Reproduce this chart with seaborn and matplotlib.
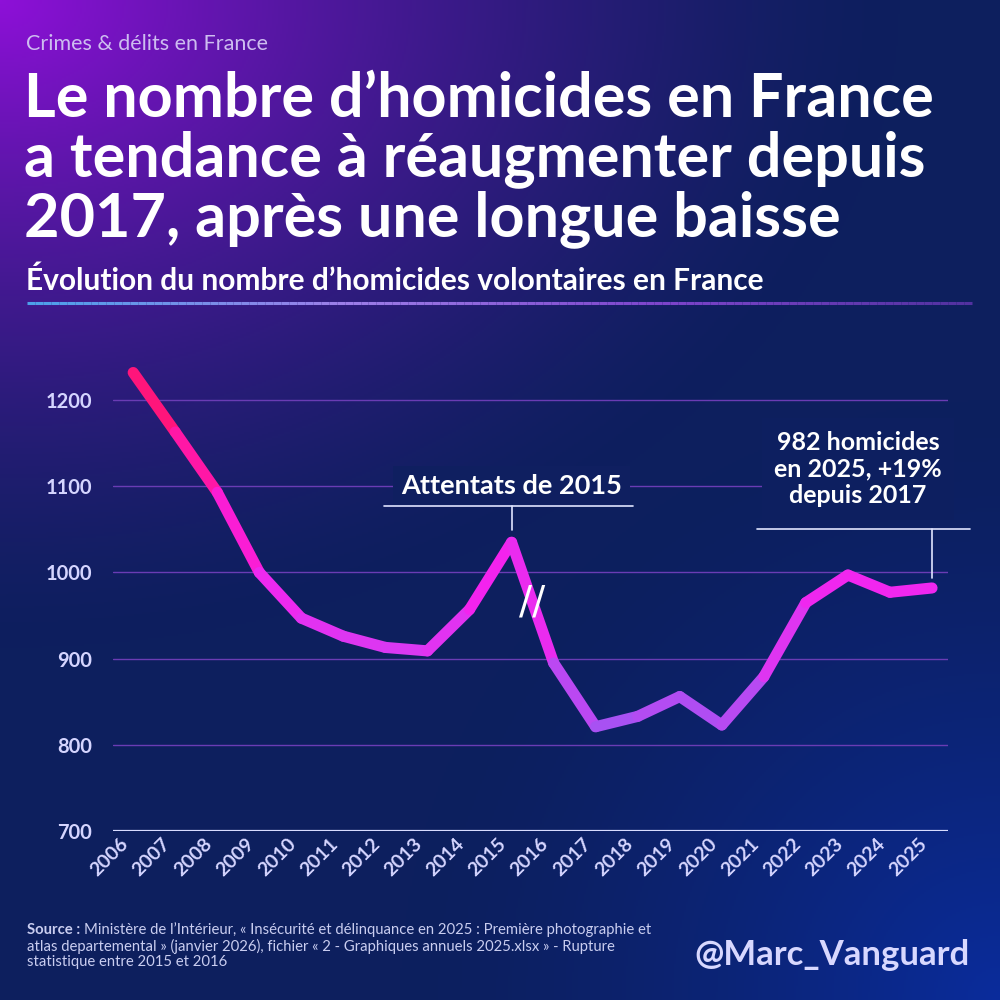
import numpy as np
import pandas as pd
import matplotlib.pyplot as plt
import seaborn as sns
from matplotlib.colors import LinearSegmentedColormap, Normalize, to_rgb
from matplotlib.collections import LineCollection
from matplotlib.transforms import ScaledTranslation

# data
years = list(range(2006, 2026))
homicides = [1232, 1163, 1093, 1000, 947, 926, 913, 909, 957, 1035,
             895, 821, 833, 856, 823, 879, 965, 997, 977, 982]
y_ticks = [700, 800, 900, 1000, 1100, 1200]
x_labels = [str(y) for y in years]

sns.set_theme(style='white')
plt.rcParams['font.family'] = ['Lato', 'DejaVu Sans']

fig = plt.figure(figsize=(10, 10), dpi=100)

# background gradient (purple top-left -> navy -> blue bottom-right)
navy = np.array(to_rgb('#0d1f5e'))
purple = np.array(to_rgb('#8e10d8'))
blue = np.array(to_rgb('#0a2c9c'))


def bg_at(x, y):
    # x, y in figure fraction measured from the top-left corner
    d1 = np.sqrt((x / 1.0) ** 2 + (y / 0.72) ** 2)
    w1 = np.clip(1 - d1 / 0.9, 0, 1) ** 1.5
    d2 = np.sqrt((1 - x) ** 2 + (1 - y) ** 2)
    w2 = np.clip(1 - d2 / 0.6, 0, 1) ** 1.5
    c = navy * (1 - w1[..., None]) + purple * w1[..., None]
    return c * (1 - w2[..., None]) + blue * w2[..., None]


yy, xx = np.mgrid[0:1:500j, 0:1:500j]
bg = fig.add_axes([0, 0, 1, 1], zorder=-10)
bg.imshow(bg_at(xx, yy), extent=[0, 1, 0, 1], origin='upper', aspect='auto')
bg.set_xlim(0, 1)
bg.set_ylim(0, 1)
bg.axis('off')


def bg_hex(px, py):
    c = bg_at(np.array([px / 1000]), np.array([py / 1000]))[0]
    return tuple(c)


# texts at the top
fig.text(0.026, 1 - 0.044, 'Crimes & délits en France', fontsize=15.5,
         color='#cdbdf0', va='center')
title_lines = ['Le nombre d’homicides en France',
               'a tendance à réaugmenter depuis',
               '2017, après une longue baisse']
for i, line in enumerate(title_lines):
    fig.text(0.024, 1 - (0.117 + 0.0595 * i), line, fontsize=44,
             weight='bold', color='white', va='baseline')
fig.text(0.026, 1 - 0.290, 'Évolution du nombre d’homicides volontaires en France',
         fontsize=21.5, weight='bold', color='white', va='baseline')

# gradient rule under the subtitle
xs = np.linspace(0.027, 0.972, 120)
segs = [[(xs[i], 1 - 0.303), (xs[i + 1], 1 - 0.303)] for i in range(len(xs) - 1)]
rule_cmap = LinearSegmentedColormap.from_list(
    'rule', ['#4fb0f5', '#a98af5', '#8a4ad8', '#5a34a8'])
lc = LineCollection(segs, colors=rule_cmap(np.linspace(0, 1, len(segs))),
                    linewidths=2.2, alpha=0.9)
bg.add_collection(lc)

# main chart
ax = fig.add_axes([0.113, 0.169, 0.835, 0.474])
ax.patch.set_alpha(0)

line_cmap = LinearSegmentedColormap.from_list(
    'line', [(0.0, '#a453f2'), (0.2, '#d83af2'), (0.44, '#f522ee'),
             (0.68, '#ff18b8'), (1.0, '#ff1466')])
norm = Normalize(820, 1232)

rows = []
for i in range(len(years) - 1):
    for j in (i, i + 1):
        rows.append({'year': years[j], 'value': homicides[j], 'seg': i})
seg_df = pd.DataFrame(rows)
pal = {i: line_cmap(norm((homicides[i] + homicides[i + 1]) / 2))
       for i in range(len(years) - 1)}
sns.lineplot(data=seg_df, x='year', y='value', hue='seg', palette=pal,
             estimator=None, sort=False, legend=False, linewidth=8,
             solid_capstyle='round', solid_joinstyle='round', ax=ax, zorder=5)

ax.set_xlim(2005.52, 2025.38)
ax.set_ylim(700, 1250)
ax.set_yticks(y_ticks)
ax.set_xticks(years)
ax.set_xticklabels(x_labels)
ax.grid(axis='y', color='#6a3cb4', linewidth=1)
ax.grid(axis='x', visible=False)
ax.axhline(700, color='#d8dcff', linewidth=1.6, zorder=3)
for s in ax.spines.values():
    s.set_visible(False)
ax.set_xlabel('')
ax.set_ylabel('')
ax.tick_params(axis='y', length=0, pad=15, labelsize=14.5, labelcolor='#d5d5ff')
ax.tick_params(axis='x', length=0, pad=3, labelsize=14, labelcolor='#d5d5ff')
for lab in ax.get_yticklabels():
    lab.set_fontweight('bold')
off = ScaledTranslation(-10 / 72, 0, fig.dpi_scale_trans)
for lab in ax.get_xticklabels():
    lab.set_fontweight('bold')
    lab.set_rotation(45)
    lab.set_ha('right')
    lab.set_va('top')
    lab.set_rotation_mode('anchor')
    lab.set_transform(lab.get_transform() + off)

# break marker between 2015 and 2016
ax.text(2015.5, (homicides[9] + homicides[10]) / 2, '//', fontsize=28,
        family='DejaVu Sans', color='white', ha='center', va='center',
        zorder=8)

# annotation: attentats 2015
i15 = years.index(2015)
ax.text(2015, 1100, 'Attentats de 2015', fontsize=19.5, weight='bold',
        color='white', ha='center', va='center', zorder=6,
        bbox=dict(boxstyle='square,pad=0.3', fc=bg_hex(508, 486), ec='none'))
ax.plot([2011.97, 2017.89], [1077, 1077], color='#e0e4ff', lw=1.2, zorder=6)
ax.plot([2015, 2015], [1077, homicides[i15] + 14], color='#e0e4ff', lw=1.2, zorder=6)

# annotation: 2025
ax.text(2023.24, 1120, '982 homicides\nen 2025, +19%\ndepuis 2017', fontsize=18,
        weight='bold', color='white', ha='center', va='center', zorder=6,
        linespacing=1.2,
        bbox=dict(boxstyle='square,pad=0.5', fc=bg_hex(860, 470), ec='none'))
ax.plot([2020.84, 2025.9], [1051, 1051], color='#e0e4ff', lw=1.2, zorder=6,
        clip_on=False)
ax.plot([2025, 2025], [1051, homicides[-1] + 12], color='#e0e4ff', lw=1.2,
        zorder=6, clip_on=False)

# source and handle
src_y = [1 - 0.930, 1 - 0.946, 1 - 0.962]
fs = 10.7
t0 = fig.text(0.027, src_y[0], 'Source :', fontsize=fs, weight='bold',
              color='#c9cdf0', va='center')
fig.canvas.draw()
bb = t0.get_window_extent(renderer=fig.canvas.get_renderer())
x1 = bb.x1 / fig.bbox.width + 0.004
fig.text(x1, src_y[0],
         'Ministère de l’Intérieur, « Insécurité et délinquance en 2025 : Première photographie et',
         fontsize=fs, color='#c9cdf0', va='center')
fig.text(0.027, src_y[1],
         'atlas departemental » (janvier 2026), fichier « 2 - Graphiques annuels 2025.xlsx » - Rupture',
         fontsize=fs, color='#c9cdf0', va='center')
fig.text(0.027, src_y[2], 'statistique entre 2015 et 2016',
         fontsize=fs, color='#c9cdf0', va='center')
fig.text(0.970, 1 - 0.955, '@Marc_Vanguard', fontsize=25, weight='bold',
         color='#d8d8ff', ha='right', va='center')

fig.savefig('out.png', dpi=100)
